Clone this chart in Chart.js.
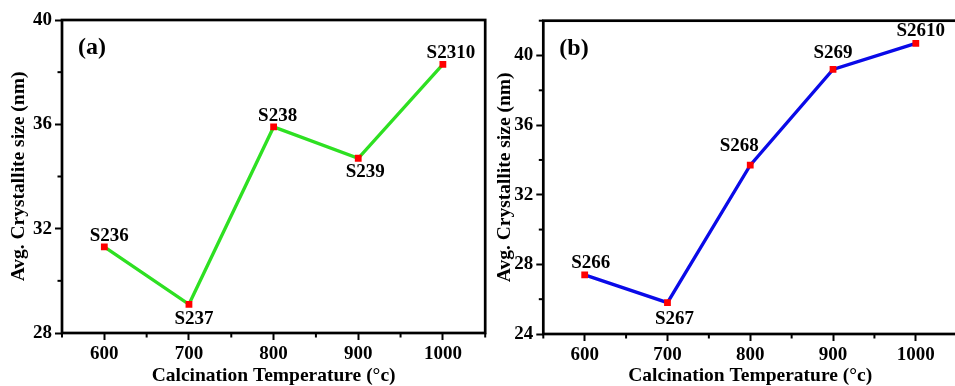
<!DOCTYPE html>
<html><head><meta charset="utf-8">
<script src="https://cdn.jsdelivr.net/npm/chart.js@4.4.1/dist/chart.umd.min.js"></script>
<style>
html,body{margin:0;padding:0;background:#fff;overflow:hidden;width:955px;height:386px;}
#wa{position:absolute;left:0;top:0;width:490px;height:386px;}
#wb{position:absolute;left:482px;top:0;width:480px;height:386px;}
</style></head><body>
<div id="wa"><canvas id="ca" width="490" height="386"></canvas></div>
<div id="wb"><canvas id="cb" width="480" height="386"></canvas></div>
<script>
const temperatures = [600, 700, 800, 900, 1000];
const sizesA = [31.3, 29.1, 35.9, 34.7, 38.3];
const sizesB = [27.4, 25.8, 33.7, 39.2, 40.7];
const sampleLabelsA = ['S236', 'S237', 'S238', 'S239', 'S2310'];
const sampleLabelsB = ['S266', 'S267', 'S268', 'S269', 'S2610'];
const xMajorTicks = [600, 700, 800, 900, 1000];
const xMinorTicks = [550, 650, 750, 850, 950, 1050];
const yMajorTicksA = [28, 32, 36, 40];
const yMinorTicksA = [30, 34, 38];
const yMajorTicksB = [24, 28, 32, 36, 40];
const yMinorTicksB = [26, 30, 34, 38, 42];
const xTitle = 'Calcination Temperature (°c)';
const yTitle = 'Avg. Crystallite size (nm)';

const SERIF = '"Liberation Serif","Times New Roman",serif';

const framePlugin = {
  id: 'frame',
  afterDraw(chart, args, o) {
    const {ctx, chartArea: a, scales: {x, y}} = chart;
    ctx.save();
    ctx.strokeStyle = '#000';
    ctx.lineWidth = 2;
    o.xMinor.forEach(v => {
      const px = x.getPixelForValue(v);
      ctx.beginPath(); ctx.moveTo(px, a.bottom); ctx.lineTo(px, a.bottom + 4.5); ctx.stroke();
    });
    o.yMinor.forEach(v => {
      const py = y.getPixelForValue(v);
      ctx.beginPath(); ctx.moveTo(a.left, py); ctx.lineTo(a.left - 4.5, py); ctx.stroke();
    });
    ctx.lineWidth = 2.7;
    ctx.strokeRect(a.left, a.top, a.right - a.left, a.bottom - a.top);
    ctx.fillStyle = '#000';
    ctx.textAlign = 'center';
    ctx.textBaseline = 'middle';
    ctx.font = 'bold 24px ' + SERIF;
    ctx.fillText(o.tag, a.left + o.tagDx, a.top + o.tagDy);
    ctx.font = 'bold 19px ' + SERIF;
    const meta = chart.getDatasetMeta(0);
    meta.data.forEach((pt, i) => {
      ctx.fillText(o.labels[i], pt.x + o.offsets[i][0], pt.y + o.offsets[i][1]);
    });
    ctx.restore();
  }
};

function makeChart(id, values, lineColor, yMin, yMax, yMajor, yMinor, pad, yAxisWidth, xAxisHeight, yTitlePad, frameOpts) {
  return new Chart(document.getElementById(id), {
    type: 'line',
    data: {
      datasets: [{
        data: temperatures.map((t, i) => ({x: t, y: values[i]})),
        borderColor: lineColor,
        borderWidth: 3.3,
        tension: 0,
        pointStyle: 'rect',
        pointRadius: 4.8,
        pointBackgroundColor: '#ff0000',
        pointBorderColor: '#ff0000',
        pointBorderWidth: 0,
        fill: false
      }]
    },
    options: {
      responsive: false,
      animation: false,
      devicePixelRatio: 1,
      layout: {padding: pad},
      plugins: {legend: {display: false}, tooltip: {enabled: false}, frame: frameOpts},
      scales: {
        x: {
          type: 'linear', min: 550, max: 1050,
          afterBuildTicks: s => { s.ticks = xMajorTicks.map(v => ({value: v})); },
          afterFit: s => { s.height = xAxisHeight; },
          grid: {display: true, drawOnChartArea: false, drawTicks: true, tickLength: 7, tickWidth: 2, tickColor: '#000'},
          border: {display: false},
          ticks: {color: '#000', font: {family: SERIF, size: 19, weight: 'bold'}, padding: 3, autoSkip: false, maxRotation: 0, callback: v => String(v)},
          title: {display: true, text: xTitle, color: '#000', font: {family: SERIF, size: 19.5, weight: 'bold', lineHeight: 1}, padding: {top: 0, bottom: 0}}
        },
        y: {
          type: 'linear', min: yMin, max: yMax,
          afterBuildTicks: s => { s.ticks = yMajor.map(v => ({value: v})); },
          afterFit: s => { s.width = yAxisWidth; },
          grid: {display: true, drawOnChartArea: false, drawTicks: true, tickLength: 7, tickWidth: 2, tickColor: '#000'},
          border: {display: false},
          ticks: {color: '#000', font: {family: SERIF, size: 19, weight: 'bold'}, padding: 3, autoSkip: false, callback: v => String(v)},
          title: {display: true, text: yTitle, color: '#000', font: {family: SERIF, size: 19.5, weight: 'bold', lineHeight: 1}, padding: {top: yTitlePad, bottom: 0}}
        }
      }
    },
    plugins: [framePlugin]
  });
}

makeChart('ca', sizesA, '#2ee022', 28, 40, yMajorTicksA, yMinorTicksA,
  {left: 0, top: 20, right: 4, bottom: 0}, 62, 53, 9.3,
  {xMinor: xMinorTicks, yMinor: yMinorTicksA, tag: '(a)', tagDx: 30, tagDy: 28, labels: sampleLabelsA,
   offsets: [[5, -11], [5, 15], [4, -11], [7, 14], [8, -11]]});

makeChart('cb', sizesB, '#0a0ae8', 24, 42, yMajorTicksB, yMinorTicksB,
  {left: 0, top: 20.7, right: 3.5, bottom: 0}, 61.3, 52, 13,
  {xMinor: xMinorTicks, yMinor: yMinorTicksB, tag: '(b)', tagDx: 30.7, tagDy: 28.3, labels: sampleLabelsB,
   offsets: [[6, -12], [7, 16], [-11, -19], [0, -16], [5, -12]]});
</script>
</body></html>
